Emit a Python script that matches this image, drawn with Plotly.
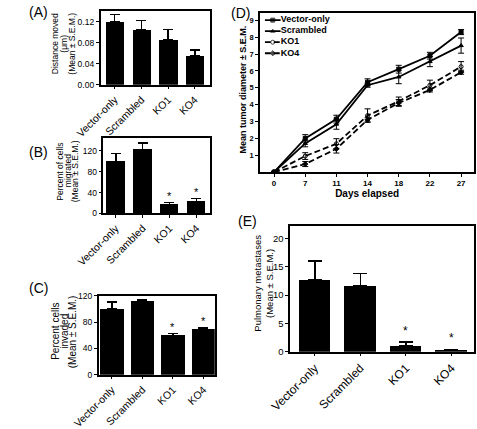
import plotly.graph_objects as go

W, H = 477, 429
FONT = "Liberation Sans, Arial, sans-serif"

# ---------------- data ----------------
groups = ["Vector-only", "Scrambled", "KO1", "KO4"]

dist_mean = [0.120, 0.105, 0.086, 0.056]
dist_sem = [0.014, 0.017, 0.019, 0.010]
dist_star = [False, False, False, False]

migr_mean = [100, 122, 17, 22]
migr_sem = [15, 13, 4, 7]
migr_star = [False, False, True, True]

inv_mean = [100, 112, 60, 70]
inv_sem = [11, 2, 3, 2]
inv_star = [False, False, True, True]

meta_mean = [12.7, 11.7, 1.0, 0.3]
meta_sem = [3.3, 2.1, 0.7, 0.1]
meta_star = [False, False, True, True]

days = ["0", "7", "11", "14", "18", "22", "27"]
vec_diam = [0, 2.00, 3.14, 5.33, 6.10, 6.90, 8.30]
vec_sem = [0, 0.22, 0.23, 0.20, 0.23, 0.20, 0.15]
scr_diam = [0, 1.70, 2.84, 5.15, 5.64, 6.55, 7.50]
scr_sem = [0, 0.20, 0.30, 0.12, 0.40, 0.30, 0.45]
ko1_diam = [0, 0.95, 1.68, 3.35, 4.20, 5.15, 6.25]
ko1_sem = [0, 0.20, 0.30, 0.40, 0.25, 0.30, 0.30]
ko4_diam = [0, 0.48, 1.38, 3.10, 4.10, 4.87, 5.92]
ko4_sem = [0, 0.15, 0.25, 0.12, 0.20, 0.12, 0.12]

series_names = ["Vector-only", "Scrambled", "KO1", "KO4"]
series_vals = [vec_diam, scr_diam, ko1_diam, ko4_diam]
series_sems = [vec_sem, scr_sem, ko1_sem, ko4_sem]
series_dash = ["solid", "solid", "6px,3px", "6px,3px"]
series_sym = ["square", "triangle-up", "circle-open", "diamond"]

# ---------------- helpers ----------------
def xd(a, b):
    return [a / W, b / W]

def yd(top, bottom):
    return [1 - bottom / H, 1 - top / H]

fig = go.Figure()
layout = {}

def axis_common():
    return dict(showline=True, linecolor="black", linewidth=1.5, mirror=True,
                ticks="outside", ticklen=3, tickwidth=1, tickcolor="black",
                showgrid=False, zeroline=False, fixedrange=True)

def bar_panel(n, means, sems, stars, xdom, ydom, xrng, bw, yrng, tickv, tickfmt,
              xfs, yfs, cap, starfs, starshift):
    xa = "x" if n == 1 else f"x{n}"
    ya = "y" if n == 1 else f"y{n}"
    fig.add_trace(go.Bar(
        x=groups, y=means, width=bw, xaxis=xa, yaxis=ya, showlegend=False,
        marker=dict(color="black", line=dict(width=0)),
        error_y=dict(type="data", array=sems, arrayminus=[0] * len(sems),
                     symmetric=False, color="black", thickness=1.5, width=cap)))
    for g, m, s, st in zip(groups, means, sems, stars):
        if st:
            fig.add_annotation(x=g, y=m + s, xref=xa, yref=ya, text="*",
                               showarrow=False, yanchor="bottom", yshift=starshift,
                               font=dict(family=FONT, size=starfs, color="black"))
    xk = "xaxis" if n == 1 else f"xaxis{n}"
    yk = "yaxis" if n == 1 else f"yaxis{n}"
    xax = axis_common()
    xax.update(domain=xdom, anchor=ya, type="category", categoryorder="array",
               categoryarray=groups, range=xrng, tickangle=-45,
               tickfont=dict(family=FONT, size=xfs, color="black"))
    yax = axis_common()
    yax.update(domain=ydom, anchor=xa, range=yrng, tickvals=tickv, tickformat=tickfmt,
               tickfont=dict(family=FONT, size=yfs, color="black"))
    layout[xk] = xax
    layout[yk] = yax

# (A)
bar_panel(1, dist_mean, dist_sem, dist_star, xd(78, 194), yd(6, 83),
          [-0.53, 3.57], 0.68, [0, 0.1407], [0, 0.04, 0.08, 0.12], ".2f",
          10.5, 8.5, 5, 11, 0)
# (B)
bar_panel(2, migr_mean, migr_sem, migr_star, xd(81, 194), yd(139, 217),
          [-0.46, 3.51], 0.70, [0, 144], [0, 40, 80, 120], "d",
          10.5, 8.5, 5, 11, -2)
# (C)
bar_panel(3, inv_mean, inv_sem, inv_star, xd(76, 199), yd(303, 385),
          [-0.43, 3.37], 0.77, [0, 120], [0, 40, 80, 120], "d",
          10.5, 8.5, 5, 11, -2)
# (E)
bar_panel(5, meta_mean, meta_sem, meta_star, xd(279, 474), yd(230, 361),
          [-0.54, 3.50], 0.69, [0, 22.2], [0, 5, 10, 15, 20], "d",
          12, 9.5, 7, 12, 2)

# (D) line chart
for name, vals, sems, dash, sym in zip(series_names, series_vals, series_sems,
                                       series_dash, series_sym):
    fig.add_trace(go.Scatter(
        x=days, y=vals, xaxis="x4", yaxis="y4", mode="lines+markers",
        showlegend=False, name=name,
        line=dict(color="black", width=1.8, dash=dash),
        marker=dict(symbol=sym, size=4, color="black",
                    line=dict(color="black", width=1)),
        error_y=dict(type="data", array=sems, color="black", thickness=1, width=3)))

xax4 = axis_common()
xax4.update(domain=xd(247, 474), anchor="y4", type="category", categoryorder="array",
            categoryarray=days, range=[-0.45, 6.42],
            tickfont=dict(family=FONT, size=8, color="black", weight="bold"),
            title=dict(text="Days elapsed", standoff=2,
                       font=dict(family=FONT, size=10, color="black", weight="bold")))
yax4 = axis_common()
yax4.update(domain=yd(8, 174), anchor="x4", range=[0, 9.45],
            tickvals=[1, 2, 3, 4, 5, 6, 7, 8, 9],
            tickfont=dict(family=FONT, size=7.5, color="black", weight="bold"))
layout["xaxis4"] = xax4
layout["yaxis4"] = yax4

# compact legend for (D), drawn on a hidden helper axis
for k, (name, dash, sym) in enumerate(zip(series_names, series_dash, series_sym)):
    fig.add_trace(go.Scatter(
        x=[0, 0.5, 1], y=[k + 1] * 3, xaxis="x6", yaxis="y6",
        mode="lines+markers+text", showlegend=False, cliponaxis=False,
        text=["", "", name], textposition="middle right",
        textfont=dict(family=FONT, size=9, color="black", weight="bold"),
        line=dict(color="black", width=1.8, dash=dash),
        marker=dict(symbol=sym, size=[0, 4, 0], color="black",
                    line=dict(color="black", width=1)),
        hoverinfo="skip"))
layout["xaxis6"] = dict(domain=xd(252, 269), anchor="y6", range=[0, 1], visible=False,
                        fixedrange=True)
layout["yaxis6"] = dict(domain=yd(10, 56), anchor="x6", range=[4.5, 0.5], visible=False,
                        fixedrange=True)

# ---------------- text ----------------
def txt(x, y, s, size, angle=0, bold=False, xanchor="center"):
    fig.add_annotation(x=x / W, y=1 - y / H, xref="paper", yref="paper", text=s,
                       showarrow=False, textangle=angle, xanchor=xanchor,
                       yanchor="middle",
                       font=dict(family=FONT, size=size, color="black",
                                 weight="bold" if bold else "normal"))

# panel letters
txt(0, 7, "(A)", 14, xanchor="left")
txt(0, 153, "(B)", 14, xanchor="left")
txt(0, 295, "(C)", 14, xanchor="left")
txt(214, 8, "(D)", 14, xanchor="left")
txt(222, 225, "(E)", 14, xanchor="left")

# y-axis titles
txt(30.5, 40, "Distance moved", 8.5, -90)
txt(39.5, 40, "(μm)", 8.5, -90)
txt(48, 40, "(Mean ± S.E.M.)", 8.5, -90)

txt(35.5, 173, "Percent of cells", 8.5, -90)
txt(43.5, 173, "migrated", 8.5, -90)
txt(51, 173, "(Mean ± S.E.M.)", 8.5, -90)

txt(30, 340, "Percent cells", 10, -90)
txt(39.5, 340, "invaded", 10, -90)
txt(48.5, 340, "(Mean ± S.E.M.)", 10, -90)

txt(228, 88, "Mean tumor diameter ± S.E.M.", 9, -90, bold=True)

txt(244, 290, "Pulmonary metastases", 9.5, -90)
txt(257, 290, "(Mean ± S.E.M.)", 9.5, -90)

fig.update_layout(
    width=W, height=H, margin=dict(l=0, r=0, t=0, b=0),
    paper_bgcolor="white", plot_bgcolor="rgba(0,0,0,0)",
    font=dict(family=FONT, color="black"),
    showlegend=False, bargap=0,
    **layout)

fig.write_html("out.html", config={"displayModeBar": False},
               post_script="document.body.style.margin='0';document.body.style.padding='0';")
